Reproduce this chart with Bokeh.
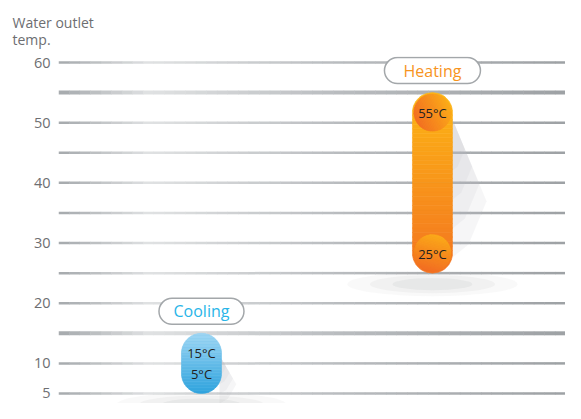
import numpy as np
from bokeh.plotting import figure
from bokeh.models import Range1d, FixedTicker
from bokeh.embed import file_html
from bokeh.resources import INLINE
from bokeh.core.properties import value

# ---------------- data ----------------
modes = ["Cooling", "Heating"]
low_temp = [5, 25]
high_temp = [15, 55]
low_labels = ["5°C", "25°C"]
high_labels = ["15°C", "55°C"]
y_ticks = [5, 10, 20, 30, 40, 50, 60]
grid_levels = [5, 10, 15, 20, 25, 30, 35, 40, 45, 50, 55, 60]
thick_levels = [15, 55]
title_text = "Water outlet\ntemp."

# ---------------- style ----------------
FONT = "Open Sans"
W, H = 565, 403
LEFT = 58
TOP = 56
X0, X1 = -0.619, 1.576
S = 6.018                         # px per degree
Y1 = 60 + (62 - TOP) / S
Y0 = Y1 - (H - TOP) / S
PX = (W - LEFT) / (X1 - X0)      # px per x unit
PY = S
R = 20                            # bar half width / end radius (px)

bar_top_col = ["#9AD5F4", "#FDB714"]
bar_bot_col = ["#2FA3DD", "#F37321"]
cap_dark = [None, "#F26C22"]
cap_light = [None, "#FBAA19"]
pill_w = [85, 96]
pill_text_col = ["#29B5E8", "#F7941D"]
TICK_COL = "#6D6E71"


def hex2rgb(h):
    h = h.lstrip("#")
    return np.array([int(h[i:i + 2], 16) for i in (0, 2, 4)], dtype=float)


def rgb2hex(c):
    return "#%02x%02x%02x" % tuple(int(round(v)) for v in c)


def interp_col(stops, t):
    ts = [s[0] for s in stops]
    for i in range(len(stops) - 1):
        if ts[i] <= t <= ts[i + 1]:
            f = (t - ts[i]) / (ts[i + 1] - ts[i])
            return rgb2hex(hex2rgb(stops[i][1]) * (1 - f) + hex2rgb(stops[i + 1][1]) * f)
    return stops[-1][1]


def stadium_halfwidth(y, lo, hi):
    ct = hi - R / PY
    cb = lo + R / PY
    if y > ct:
        d = (y - ct) * PY
    elif y < cb:
        d = (cb - y) * PY
    else:
        d = 0.0
    return np.sqrt(max(R * R - d * d, 0.0)) / PX


def stadium_bands(xc, lo, hi, n):
    edges = np.linspace(lo, hi, n + 1)
    xs_l, ys_l = [], []
    for k in range(n):
        ys = np.linspace(edges[k], edges[k + 1], 6)
        hw = [stadium_halfwidth(y, lo, hi) for y in ys]
        px = [xc + h for h in hw] + [xc - h for h in hw[::-1]]
        py = list(ys) + list(ys[::-1])
        xs_l.append(px)
        ys_l.append(py)
    return xs_l, ys_l


def disc_bands(xc, yc, r, ang, n):
    u = np.array([np.cos(np.radians(ang)), np.sin(np.radians(ang))])
    v = np.array([-u[1], u[0]])
    edges = np.linspace(-r, r, n + 1)
    xs_l, ys_l = [], []
    for k in range(n):
        ts = np.linspace(edges[k], edges[k + 1], 5)
        hs = np.sqrt(np.maximum(r * r - ts ** 2, 0))
        pts = [t * u + h * v for t, h in zip(ts, hs)] + \
              [t * u - h * v for t, h in zip(ts[::-1], hs[::-1])]
        xs_l.append([xc + q[0] / PX for q in pts])
        ys_l.append([yc + q[1] / PY for q in pts])
    return xs_l, ys_l


p = figure(width=W, height=H, x_range=Range1d(X0, X1), y_range=Range1d(Y0, Y1),
           output_backend="svg", toolbar_location=None, x_axis_location=None,
           title=title_text,
           min_border_left=LEFT, min_border_right=0, min_border_top=TOP, min_border_bottom=0)
p.outline_line_color = None
p.xgrid.visible = False
p.ygrid.visible = False
p.background_fill_color = "white"

p.title.align = "left"
p.title.offset = 12 - LEFT
p.title.text_font = FONT
p.title.text_font_size = "14px"
p.title.text_font_style = "normal"
p.title.text_color = TICK_COL
p.title.text_line_height = 0.9
p.title.standoff = 15

ax = p.yaxis[0]
ax.ticker = FixedTicker(ticks=y_ticks)
ax.axis_line_color = None
ax.major_tick_line_color = None
ax.minor_tick_line_color = None
ax.major_tick_out = 0
ax.major_label_standoff = 8
ax.major_label_text_font = FONT
ax.major_label_text_font_size = "14.5px"
ax.major_label_text_color = TICK_COL

# ---------------- gradient grid lines ----------------
grid_stops = [(0.0, "#A5A9AC"), (0.18, "#E0E2E3"), (0.55, "#B9BCBF"), (1.0, "#9DA1A4")]
N = 48
xs = np.linspace(X0, X1, N + 1)
for lvl in grid_levels:
    lw = 4 if lvl in thick_levels else 2.5
    cols = [interp_col(grid_stops, (i + 0.5) / N) for i in range(N)]
    p.segment(x0=xs[:-1], x1=xs[1:] + 0.002, y0=[lvl] * N, y1=[lvl] * N,
              line_color=cols, line_width=lw)

# ---------------- shadows ----------------
for i, m in enumerate(modes):
    lo, hi = low_temp[i], high_temp[i]
    span_px = (hi - lo) * PY
    xr = i + (R - 2) / PX
    reach = (0.2 if i == 1 else 0.28) * span_px
    for f in [1.0, 0.8, 0.6, 0.4]:
        sx = [xr, xr + f * reach / PX, xr + 0.5 * f * reach / PX, xr]
        sy = [hi - (R + 2) / PY, hi - (R + 2) / PY - f * (0.48 * span_px) / PY,
              hi - (R + 2) / PY - f * (0.72 * span_px) / PY,
              hi - (R + 2) / PY - f * (0.8 * span_px) / PY]
        p.patch(sx, sy, fill_color="#B8BBBE", fill_alpha=0.13, line_color=None)
    for k, a in enumerate([0.05, 0.07, 0.09]):
        p.ellipse(x=[i], y=[lo - 11 / PY], width=[170 - 45 * k], height=[24 - 6 * k],
                  width_units="screen", height_units="screen",
                  fill_color="#8A8C8E", fill_alpha=a, line_color=None)

# ---------------- bars ----------------
NB = 40
for i, m in enumerate(modes):
    lo, hi = low_temp[i], high_temp[i]
    bxs, bys = stadium_bands(i, lo, hi, NB)
    cols = [interp_col([(0.0, bar_bot_col[i]), (1.0, bar_top_col[i])], (k + 0.5) / NB)
            for k in range(NB)]
    p.patches(bxs, bys, fill_color=cols, line_color=cols, line_width=0.6)

    if cap_dark[i] is not None:
        for (yc, ang) in [(hi - R / PY, 25), (lo + R / PY, 75)]:
            cxs, cys = disc_bands(i, yc, 18.5, ang, 24)
            ccols = [interp_col([(0.0, cap_dark[i]), (1.0, cap_light[i])], (k + 0.5) / 24)
                     for k in range(24)]
            p.patches(cxs, cys, fill_color=ccols, line_color=ccols, line_width=0.6)

    p.text(x=[i], y=[hi - R / PY], text=[high_labels[i]],
           text_font=value(FONT), text_font_size="13px", text_color="#231F20",
           text_align="center", text_baseline="middle")
    p.text(x=[i], y=[lo + (R - 1) / PY], text=[low_labels[i]],
           text_font=value(FONT), text_font_size="13px", text_color="#231F20",
           text_align="center", text_baseline="middle")

    py = hi + 22 / PY
    p.rect(x=[i], y=[py], width=pill_w[i], height=26, width_units="screen",
           height_units="screen", fill_color="white", line_color="#A3A7AA",
           line_width=1.5, border_radius=13)
    p.text(x=[i], y=[py], text=[m], text_font=value(FONT), text_font_size="16px",
           text_color=pill_text_col[i], text_align="center", text_baseline="middle")

open("out.html", "w").write(file_html(p, INLINE))
